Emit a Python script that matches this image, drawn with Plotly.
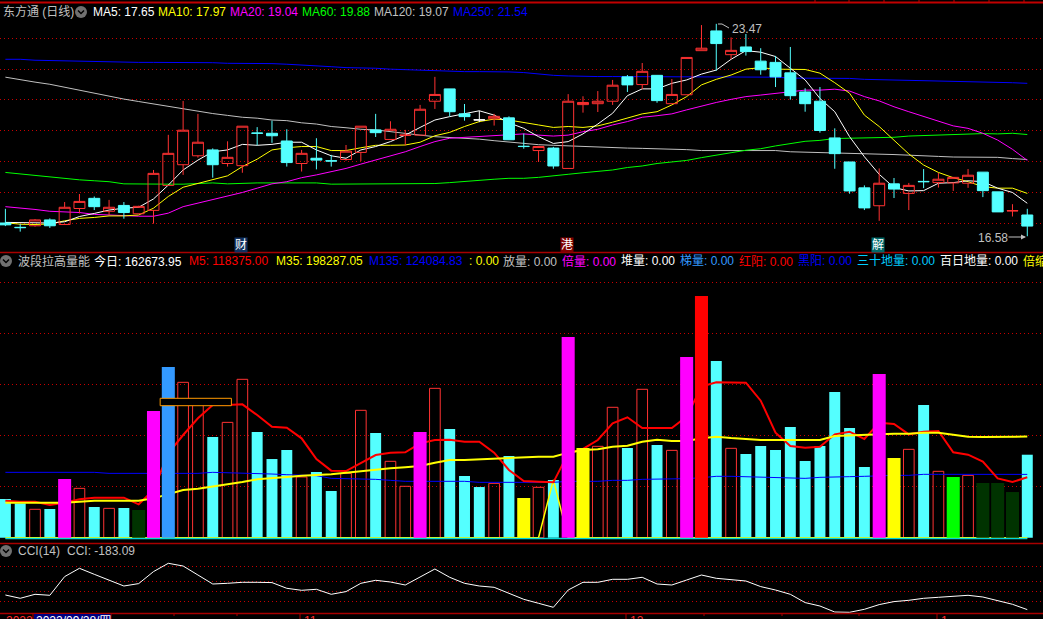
import plotly.graph_objects as go

days = list(range(70))

# price panel: open, high, low, close
open_ = [17.01,16.87,16.92,17.11,16.96,17.48,17.81,17.39,17.58,17.31,17.42,18.23,18.90,19.19,19.38,18.94,18.87,19.93,19.92,19.67,
         18.94,19.11,19.03,19.07,19.30,20.03,19.72,19.85,19.86,20.96,21.36,20.55,20.36,20.39,20.42,19.50,19.36,19.44,18.78,20.85,
         20.88,20.96,21.75,21.50,21.80,20.88,21.17,22.60,23.24,22.47,22.72,22.26,22.22,21.88,21.26,20.96,19.77,18.99,18.15,17.57,
         18.28,17.97,18.36,18.32,18.31,18.30,18.66,18.02,17.40,17.27]
close = [16.95,16.86,17.11,16.92,17.52,17.71,17.54,17.52,17.35,17.55,18.62,19.27,20.02,19.63,18.90,19.14,20.15,19.92,19.84,18.97,
         19.27,19.05,19.02,19.34,20.15,19.94,20.05,19.86,20.70,21.18,20.62,20.46,20.35,20.47,19.71,19.49,19.49,18.86,20.96,20.92,
         20.96,21.48,21.49,21.93,20.98,21.18,22.38,22.68,22.83,22.61,22.57,21.98,21.75,21.14,20.88,20.01,19.26,18.05,17.50,18.30,
         18.11,18.23,18.35,18.43,18.49,18.56,18.06,17.37,17.41,16.91]
high = [17.47,16.98,17.14,17.16,17.69,17.95,17.87,17.76,17.69,17.57,18.73,19.87,20.97,20.55,19.43,19.66,20.15,20.12,20.33,20.05,
        19.38,19.76,19.22,19.54,20.15,20.55,20.31,20.03,20.84,21.75,21.36,20.87,20.65,20.55,20.47,19.91,19.49,19.48,21.19,21.12,
        21.29,21.65,21.81,22.20,21.81,21.68,22.38,23.43,23.47,23.03,23.14,22.68,22.43,22.72,21.38,21.42,20.08,18.99,18.23,18.78,
        18.47,18.31,18.76,18.63,18.49,18.76,18.66,18.02,17.62,17.47]
low = [16.91,16.73,16.89,16.85,16.96,17.32,17.43,17.27,17.15,17.31,16.99,18.23,18.57,19.13,18.48,18.84,18.64,19.53,19.61,18.84,
       18.68,18.75,18.84,19.03,19.02,19.80,19.70,19.53,19.86,20.71,20.47,20.33,20.28,20.17,19.70,19.42,18.99,18.77,18.78,20.59,
       20.61,20.84,21.26,21.35,20.91,20.88,21.17,22.60,21.95,22.32,22.44,21.82,21.42,21.01,20.62,19.94,18.77,17.96,17.43,17.08,
       17.82,17.43,18.14,18.16,18.05,18.15,17.85,17.37,17.22,16.58]
ma5 = [17.03,17.03,17.02,17.01,17.05,17.22,17.32,17.43,17.49,17.52,17.79,18.24,18.73,19.05,19.32,19.38,19.56,19.53,19.56,19.63,
       19.63,19.38,19.19,19.11,19.38,19.49,19.65,19.86,20.11,20.35,20.46,20.55,20.65,20.51,20.26,20.08,19.81,19.59,19.65,19.90,
       20.22,20.57,21.14,21.36,21.36,21.54,21.65,21.84,21.97,22.32,22.60,22.55,22.41,22.03,21.65,21.05,20.62,19.81,19.16,18.59,
       18.16,18.05,18.06,18.30,18.32,18.38,18.35,18.14,18.00,17.65]
ma10 = [17.02,16.97,16.96,16.98,17.08,17.16,17.19,17.24,17.24,17.27,17.49,17.87,18.17,18.30,18.41,18.54,18.84,19.08,19.38,19.45,
        19.49,19.49,19.36,19.36,19.45,19.53,19.53,19.54,19.63,19.84,19.95,20.14,20.30,20.38,20.35,20.26,20.19,20.11,20.14,20.11,
        20.16,20.28,20.41,20.55,20.62,20.84,21.11,21.49,21.67,21.81,22.00,22.05,22.00,21.99,21.99,21.87,21.56,21.22,20.51,20.14,
        19.70,19.25,18.89,18.65,18.48,18.35,18.19,18.14,18.14,17.97]
ma20 = [17.54,17.50,17.45,17.39,17.37,17.35,17.29,17.27,17.24,17.23,17.23,17.33,17.54,17.65,17.76,17.87,18.00,18.14,18.28,18.35,
        18.48,18.57,18.68,18.78,18.92,19.05,19.19,19.32,19.49,19.65,19.76,19.79,19.83,19.86,19.89,19.90,19.86,19.83,19.86,19.97,
        20.05,20.19,20.30,20.44,20.49,20.55,20.68,20.81,20.92,21.02,21.11,21.16,21.22,21.27,21.32,21.32,21.35,21.29,21.11,20.97,
        20.78,20.62,20.46,20.30,20.16,20.08,19.92,19.70,19.40,19.04]
ma60 = [18.65,18.60,18.55,18.50,18.45,18.41,18.38,18.35,18.28,18.27,18.27,18.27,18.27,18.30,18.31,18.28,18.30,18.31,18.31,18.31,
        18.31,18.31,18.27,18.27,18.27,18.27,18.27,18.27,18.27,18.29,18.32,18.36,18.41,18.43,18.46,18.46,18.49,18.53,18.59,18.64,
        18.69,18.73,18.81,18.86,18.94,18.98,19.04,19.13,19.22,19.29,19.37,19.42,19.51,19.59,19.66,19.69,19.75,19.76,19.77,19.78,
        19.79,19.83,19.85,19.86,19.88,19.90,19.91,19.90,19.92,19.88]
ma120 = [21.74,21.65,21.58,21.51,21.41,21.32,21.22,21.13,21.03,20.95,20.87,20.78,20.70,20.62,20.56,20.50,20.44,20.41,20.35,20.33,
         20.26,20.22,20.14,20.10,20.05,20.03,19.97,19.90,19.86,19.81,19.78,19.77,19.73,19.68,19.63,19.58,19.55,19.53,19.51,19.48,
         19.48,19.44,19.44,19.43,19.42,19.40,19.39,19.36,19.36,19.36,19.37,19.37,19.36,19.32,19.31,19.30,19.29,19.28,19.27,19.24,
         19.23,19.21,19.18,19.17,19.15,19.15,19.14,19.14,19.10,19.07]
ma250 = [22.32,22.32,22.29,22.28,22.25,22.25,22.24,22.22,22.22,22.22,22.22,22.22,22.22,22.22,22.21,22.19,22.19,22.18,22.18,22.16,
         22.14,22.11,22.08,22.05,22.05,22.03,22.00,21.98,21.96,21.96,21.94,21.92,21.92,21.92,21.91,21.89,21.84,21.80,21.78,21.76,
         21.76,21.76,21.76,21.76,21.76,21.76,21.76,21.76,21.76,21.76,21.76,21.74,21.74,21.71,21.71,21.71,21.71,21.70,21.67,21.66,
         21.64,21.64,21.64,21.63,21.60,21.60,21.59,21.58,21.56,21.54]
doji_day = [32]

# volume panel
volume = [75800,67300,55600,56200,115000,96700,60100,57500,58200,54200,248400,334600,304600,269900,197400,226100,310500,207200,154200,171900,
          119000,128800,91500,126100,249700,205200,149700,100700,207200,292800,213100,120900,99300,106500,160100,77800,98700,113100,393500,175800,
          179100,255600,175800,290900,181700,171200,354300,473900,346400,175200,164100,179700,171900,217000,150300,179700,285600,215000,138600,320900,
          156200,173200,260100,130100,119000,122200,107200,107200,89500,162674]
vol_kind = ["c","c","h","c","m","h","c","h","c","d","m","b","h","h","c","h","h","c","c","c",
            "h","c","c","h","h","c","h","h","m","h","c","c","c","h","c","y","h","c","m","y",
            "h","h","c","h","c","h","m","r","c","h","c","c","c","c","c","c","c","c","c","m",
            "y","h","c","h","g","h","d","d","d","c"]
m5 = [72500,70600,70600,64100,68600,75200,78400,78400,78400,65400,93500,165400,201300,234000,260100,260100,261400,240500,217600,215700,
      194800,154200,131400,130700,145800,162100,166700,167300,185000,191500,192200,188200,188200,166700,132700,111100,109800,108500,165400,173900,
      191500,224200,236000,215000,215000,215000,237300,296100,304600,303900,303900,268600,205900,179700,176500,178400,202600,207800,193500,225500,
      222900,202600,207800,209200,167300,162700,149000,116300,109200,118375]
m35 = [68600,68600,68600,68000,68600,70600,72500,72500,72500,72500,77100,85600,93500,96100,100000,103900,109200,114400,116300,119000,
       121600,122900,124200,127500,130700,134000,135900,137900,140500,147100,152300,152300,153600,154900,156200,158200,158800,158800,166700,171900,
       173200,178400,180400,188200,192200,189500,189500,194800,198000,195400,193500,191500,191500,191500,191500,191500,199300,200700,202000,202600,
       203900,203900,205900,205900,202000,198000,197400,197400,197400,198287]
m135 = [128100,128100,128100,128100,128100,128100,128100,126100,126100,126100,126100,126100,126100,126100,128100,127500,126100,126100,124800,123500,
        122900,121600,116300,115700,115000,114400,112400,110500,110500,110500,110500,110500,108500,108500,108500,108500,107200,108500,110500,110500,
        110500,112400,112400,114400,114400,114400,115700,117600,120300,120300,119600,118300,118300,118300,116300,118300,118300,119600,120300,121600,
        122200,122200,124200,124200,124200,124200,124200,124200,122900,124084]
signal = [0]*37 + [113100] + [0]*32
floor_line = [-1500]*70
cursor_box_days = [10.45, 15.26]
cursor_box_vals = [258760, 273270]

# CCI panel
cci = [-37,-70,-30,-40,147,230,170,113,53,77,197,280,253,163,73,80,90,90,87,30,
       10,20,-30,-3,80,110,93,63,147,223,140,80,53,40,-20,-80,-120,-160,13,90,
       90,120,120,140,73,63,113,163,130,113,103,47,13,-30,-113,-147,-207,-210,-180,-133,
       -103,-90,-70,-60,-50,-40,-57,-97,-130,-183.09]

price_ticks = [23,22,21,20,19,18,17]
vol_ticks = [500000,400000,300000,200000,100000]
cci_ticks = [250,100,0,-100]

W, H = 1043, 619
RED_H = "#ff3232"
CYAN = "#54ffff"
FONT = "Liberation Sans, Noto Sans CJK SC, sans-serif"
GRID = "#c80000"

fig = go.Figure()

# price lines (below the candles)
for vals, col in [(ma250,"#0000ff"),(ma120,"#c0c0c0"),(ma60,"#00ff00"),(ma20,"#ff00ff"),(ma10,"#ffff00"),(ma5,"#ffffff")]:
    fig.add_trace(go.Scatter(x=days, y=vals, mode="lines", line=dict(color=col, width=1), xaxis="x", yaxis="y"))

# candles on an overlaying axis so they cover the lines
norm = [d for d in days if d not in doji_day]
fig.add_trace(go.Candlestick(
    x=norm, open=[open_[d] for d in norm], high=[high[d] for d in norm],
    low=[low[d] for d in norm], close=[close[d] for d in norm],
    increasing=dict(line=dict(color=RED_H, width=1), fillcolor="rgba(0,0,0,0)"),
    decreasing=dict(line=dict(color=CYAN, width=1), fillcolor=CYAN),
    xaxis="x", yaxis="y2", whiskerwidth=0))
fig.add_trace(go.Candlestick(
    x=doji_day, open=[open_[d] for d in doji_day], high=[high[d] for d in doji_day],
    low=[low[d] for d in doji_day], close=[close[d] for d in doji_day],
    decreasing=dict(line=dict(color="#ffffff", width=1), fillcolor="#ffffff"),
    increasing=dict(line=dict(color="#ffffff", width=1), fillcolor="#ffffff"),
    xaxis="x", yaxis="y2", whiskerwidth=0))

def pick(kind):
    idx = [d for d in days if vol_kind[d] == kind]
    return idx, [volume[d] for d in idx]

# open bars and cyan bars lie under the lines
ix, v = pick("c")
fig.add_trace(go.Bar(x=ix, y=v, width=0.74, marker=dict(color=CYAN, line=dict(width=0)), xaxis="x", yaxis="y3"))
ix, v = pick("h")
fig.add_trace(go.Bar(x=ix, y=v, width=0.72, marker=dict(color="rgba(0,0,0,0)", line=dict(color=RED_H, width=1)), xaxis="x", yaxis="y3"))

fig.add_trace(go.Scatter(x=days, y=signal, mode="lines", line=dict(color="#ffff00", width=1.5), xaxis="x", yaxis="y3"))
fig.add_trace(go.Scatter(x=days, y=floor_line, mode="lines", line=dict(color="#00d8d8", width=1.5), xaxis="x", yaxis="y3"))
fig.add_trace(go.Scatter(x=days, y=m135, mode="lines", line=dict(color="#0000ff", width=1), xaxis="x", yaxis="y3"))
fig.add_trace(go.Scatter(x=days, y=m5, mode="lines", line=dict(color="#ff0000", width=2), xaxis="x", yaxis="y3"))
fig.add_trace(go.Scatter(x=days, y=m35, mode="lines", line=dict(color="#ffff00", width=2), xaxis="x", yaxis="y3"))

# solid signal bars lie over the lines
for kind, col in [("m","#ff00ff"),("b","#3399ff"),("r","#ff0000"),("y","#ffff00"),("g","#00ff00"),("d","#003300")]:
    ix, v = pick(kind)
    fig.add_trace(go.Bar(x=ix, y=v, width=0.88, marker=dict(color=col, line=dict(width=0)), xaxis="x", yaxis="y4"))

fig.add_trace(go.Scatter(x=days, y=cci, mode="lines", line=dict(color="#ffffff", width=1), xaxis="x", yaxis="y5"))

def dom(top, bottom):
    return [1 - bottom / H, 1 - top / H]

price_range = [23 - (252 - 38.33) / 30.83, 23 - (3 - 38.33) / 30.83]
vol_range = [(537.67 - 543.5) / 51 * 1e5, (537.67 - 252) / 51 * 1e5]
cci_range = [(591.3 - 613.5) * 10, (591.3 - 543.5) * 10]

def yaxis(rng, domain, ticks=None, overlay=None):
    d = dict(range=rng, fixedrange=True, showticklabels=False, zeroline=False, showline=False, ticks="")
    if overlay:
        d.update(overlaying=overlay, showgrid=False, visible=False)
    else:
        d.update(domain=domain, tickvals=ticks, showgrid=True, gridcolor=GRID, griddash="1px,3px", gridwidth=1)
    return d

fig.update_layout(
    width=W, height=H, margin=dict(l=0, r=0, t=0, b=0),
    paper_bgcolor="#000000", plot_bgcolor="#000000",
    showlegend=False, hovermode=False, barmode="overlay",
    boxmode="overlay", boxgap=0.26, boxgroupgap=0,
    font=dict(family=FONT, size=12, color="#c0c0c0"),
    xaxis=dict(range=[(0 - 5.4) / 14.81, (W - 5.4) / 14.81], visible=False, fixedrange=True,
               rangeslider=dict(visible=False), anchor="y", domain=[0, 1]),
    yaxis=yaxis(price_range, dom(3, 252), price_ticks),
    yaxis2=yaxis(price_range, None, overlay="y"),
    yaxis3=yaxis(vol_range, dom(252, 543.5), vol_ticks),
    yaxis4=yaxis(vol_range, None, overlay="y3"),
    yaxis5=yaxis(cci_range, dom(543.5, 613.5), cci_ticks),
)

def px(x): return x / W
def py(y): return 1 - y / H

def text(x, y, s, color, size=12, anchor="left", bg=None):
    fig.add_annotation(xref="paper", yref="paper", x=px(x), y=py(y), text=s, showarrow=False,
                       xanchor=anchor, yanchor="middle",
                       font=dict(family=FONT, size=size, color=color),
                       bgcolor=bg, borderpad=0, align="left")

def hline(y, x0=0, x1=W, color="#a80000", width=1.5):
    fig.add_shape(type="line", xref="paper", yref="paper", x0=px(x0), x1=px(x1), y0=py(y), y1=py(y),
                  line=dict(color=color, width=width), layer="above")

def vline(x, y0, y1, color="#a80000", width=1):
    fig.add_shape(type="line", xref="paper", yref="paper", x0=px(x), x1=px(x), y0=py(y0), y1=py(y1),
                  line=dict(color=color, width=width), layer="above")

def icon(cx, cy):
    r = 6
    fig.add_shape(type="circle", xref="paper", yref="paper", x0=px(cx-r), x1=px(cx+r), y0=py(cy+r), y1=py(cy-r),
                  fillcolor="#707070", line=dict(width=0), layer="above")
    fig.add_shape(type="path", xref="paper", yref="paper",
                  path=f"M {px(cx-3)} {py(cy-1.5)} L {px(cx)} {py(cy+1.5)} L {px(cx+3)} {py(cy-1.5)}",
                  line=dict(color="#000000", width=1.5), layer="above")

# panel borders
hline(2.5, width=2, color="#c00000")
hline(252.5, width=1.5)
hline(543.5, width=1.5)
hline(613.5, width=1.5)
for tx in [815, 849, 884, 919, 954, 989, 1024]:
    vline(tx, 0, 2, color="#c00000")
for tx in [174, 237, 704, 782, 859]:
    vline(tx, 613.5, 616)
for tx in [33, 111, 300, 626, 937]:
    vline(tx, 613.5, 619)

# header row 1
text(2, 12, "东方通 (日线)", "#c0c0c0")
icon(81, 12)
for x, s, c in [(92, "MA5: 17.65", "#ffffff"), (157, "MA10: 17.97", "#ffff00"), (229, "MA20: 19.04", "#ff00ff"),
                (301, "MA60: 19.88", "#00ff00"), (373, "MA120: 19.07", "#c0c0c0"), (452, "MA250: 21.54", "#0000ff")]:
    text(x, 12, s, c)

# header row 2
icon(6, 261)
for x, s, c in [(17, "波段拉高量能", "#c0c0c0"), (93, "今日: 162673.95", "#ffffff"), (188, "M5: 118375.00", "#ff0000"),
                (275, "M35: 198287.05", "#ffff00"), (368, "M135: 124084.83", "#0000ff"), (468, ": 0.00", "#ffff00"),
                (502, "放量: 0.00", "#c0c0c0"), (561, "倍量: 0.00", "#ff00ff"), (620, "堆量: 0.00", "#ffffff"),
                (679, "梯量: 0.00", "#3399ff"), (738, "红阳: 0.00", "#ff0000"), (797, "黑阳: 0.00", "#0000ff"),
                (856, "三十地量: 0.00", "#00ccff"), (939, "百日地量: 0.00", "#ffffff"), (1022, "倍缩", "#ffff00")]:
    text(x, 261, s, c)

# header row 3
icon(6, 551)
text(17, 551, "CCI(14)", "#c0c0c0")
text(66, 551, "CCI: -183.09", "#c0c0c0")

# extreme labels
text(731, 28.5, "23.47", "#c0c0c0")
text(977, 237.5, "16.58", "#c0c0c0")
fig.add_shape(type="path", xref="paper", yref="paper",
              path=f"M {px(718)} {py(24)} L {px(722)} {py(24)} L {px(729)} {py(28)}",
              line=dict(color="#c0c0c0", width=1), layer="above")
fig.add_annotation(xref="paper", yref="paper", x=px(1026), y=py(237), ax=-19, ay=0, text="", showarrow=True,
                   arrowhead=2, arrowsize=1, arrowwidth=1, arrowcolor="#c0c0c0")

# news flags
text(241, 245, "财", "#ffffff", anchor="center", bg="#103060")
text(567, 245, "港", "#ffffff", anchor="center", bg="#800000")
text(878, 245, "解", "#ffffff", anchor="center", bg="#006a6a")

# cursor box in the volume panel
fig.add_shape(type="rect", xref="x", yref="y3", x0=cursor_box_days[0], x1=cursor_box_days[1],
              y0=cursor_box_vals[0], y1=cursor_box_vals[1], fillcolor="#000000",
              line=dict(color="#ff9900", width=1), layer="above")

# clipped date strip
fig.add_shape(type="rect", xref="paper", yref="paper", x0=px(34), x1=px(110.5), y0=py(625), y1=py(614),
              fillcolor="#000080", line=dict(width=0), layer="above")
text(35, 621, "2022/09/28/四", "#ffffff")
text(5, 621, "2022", "#ff3232")
text(303, 621, "11", "#ff3232")
text(629, 621, "12", "#ff3232")
text(940, 621, "1", "#ff3232")

fig.write_html("out.html", config=dict(displayModeBar=False),
               post_script="document.body.style.margin='0';document.body.style.overflow='hidden';document.documentElement.style.background='#000';")
